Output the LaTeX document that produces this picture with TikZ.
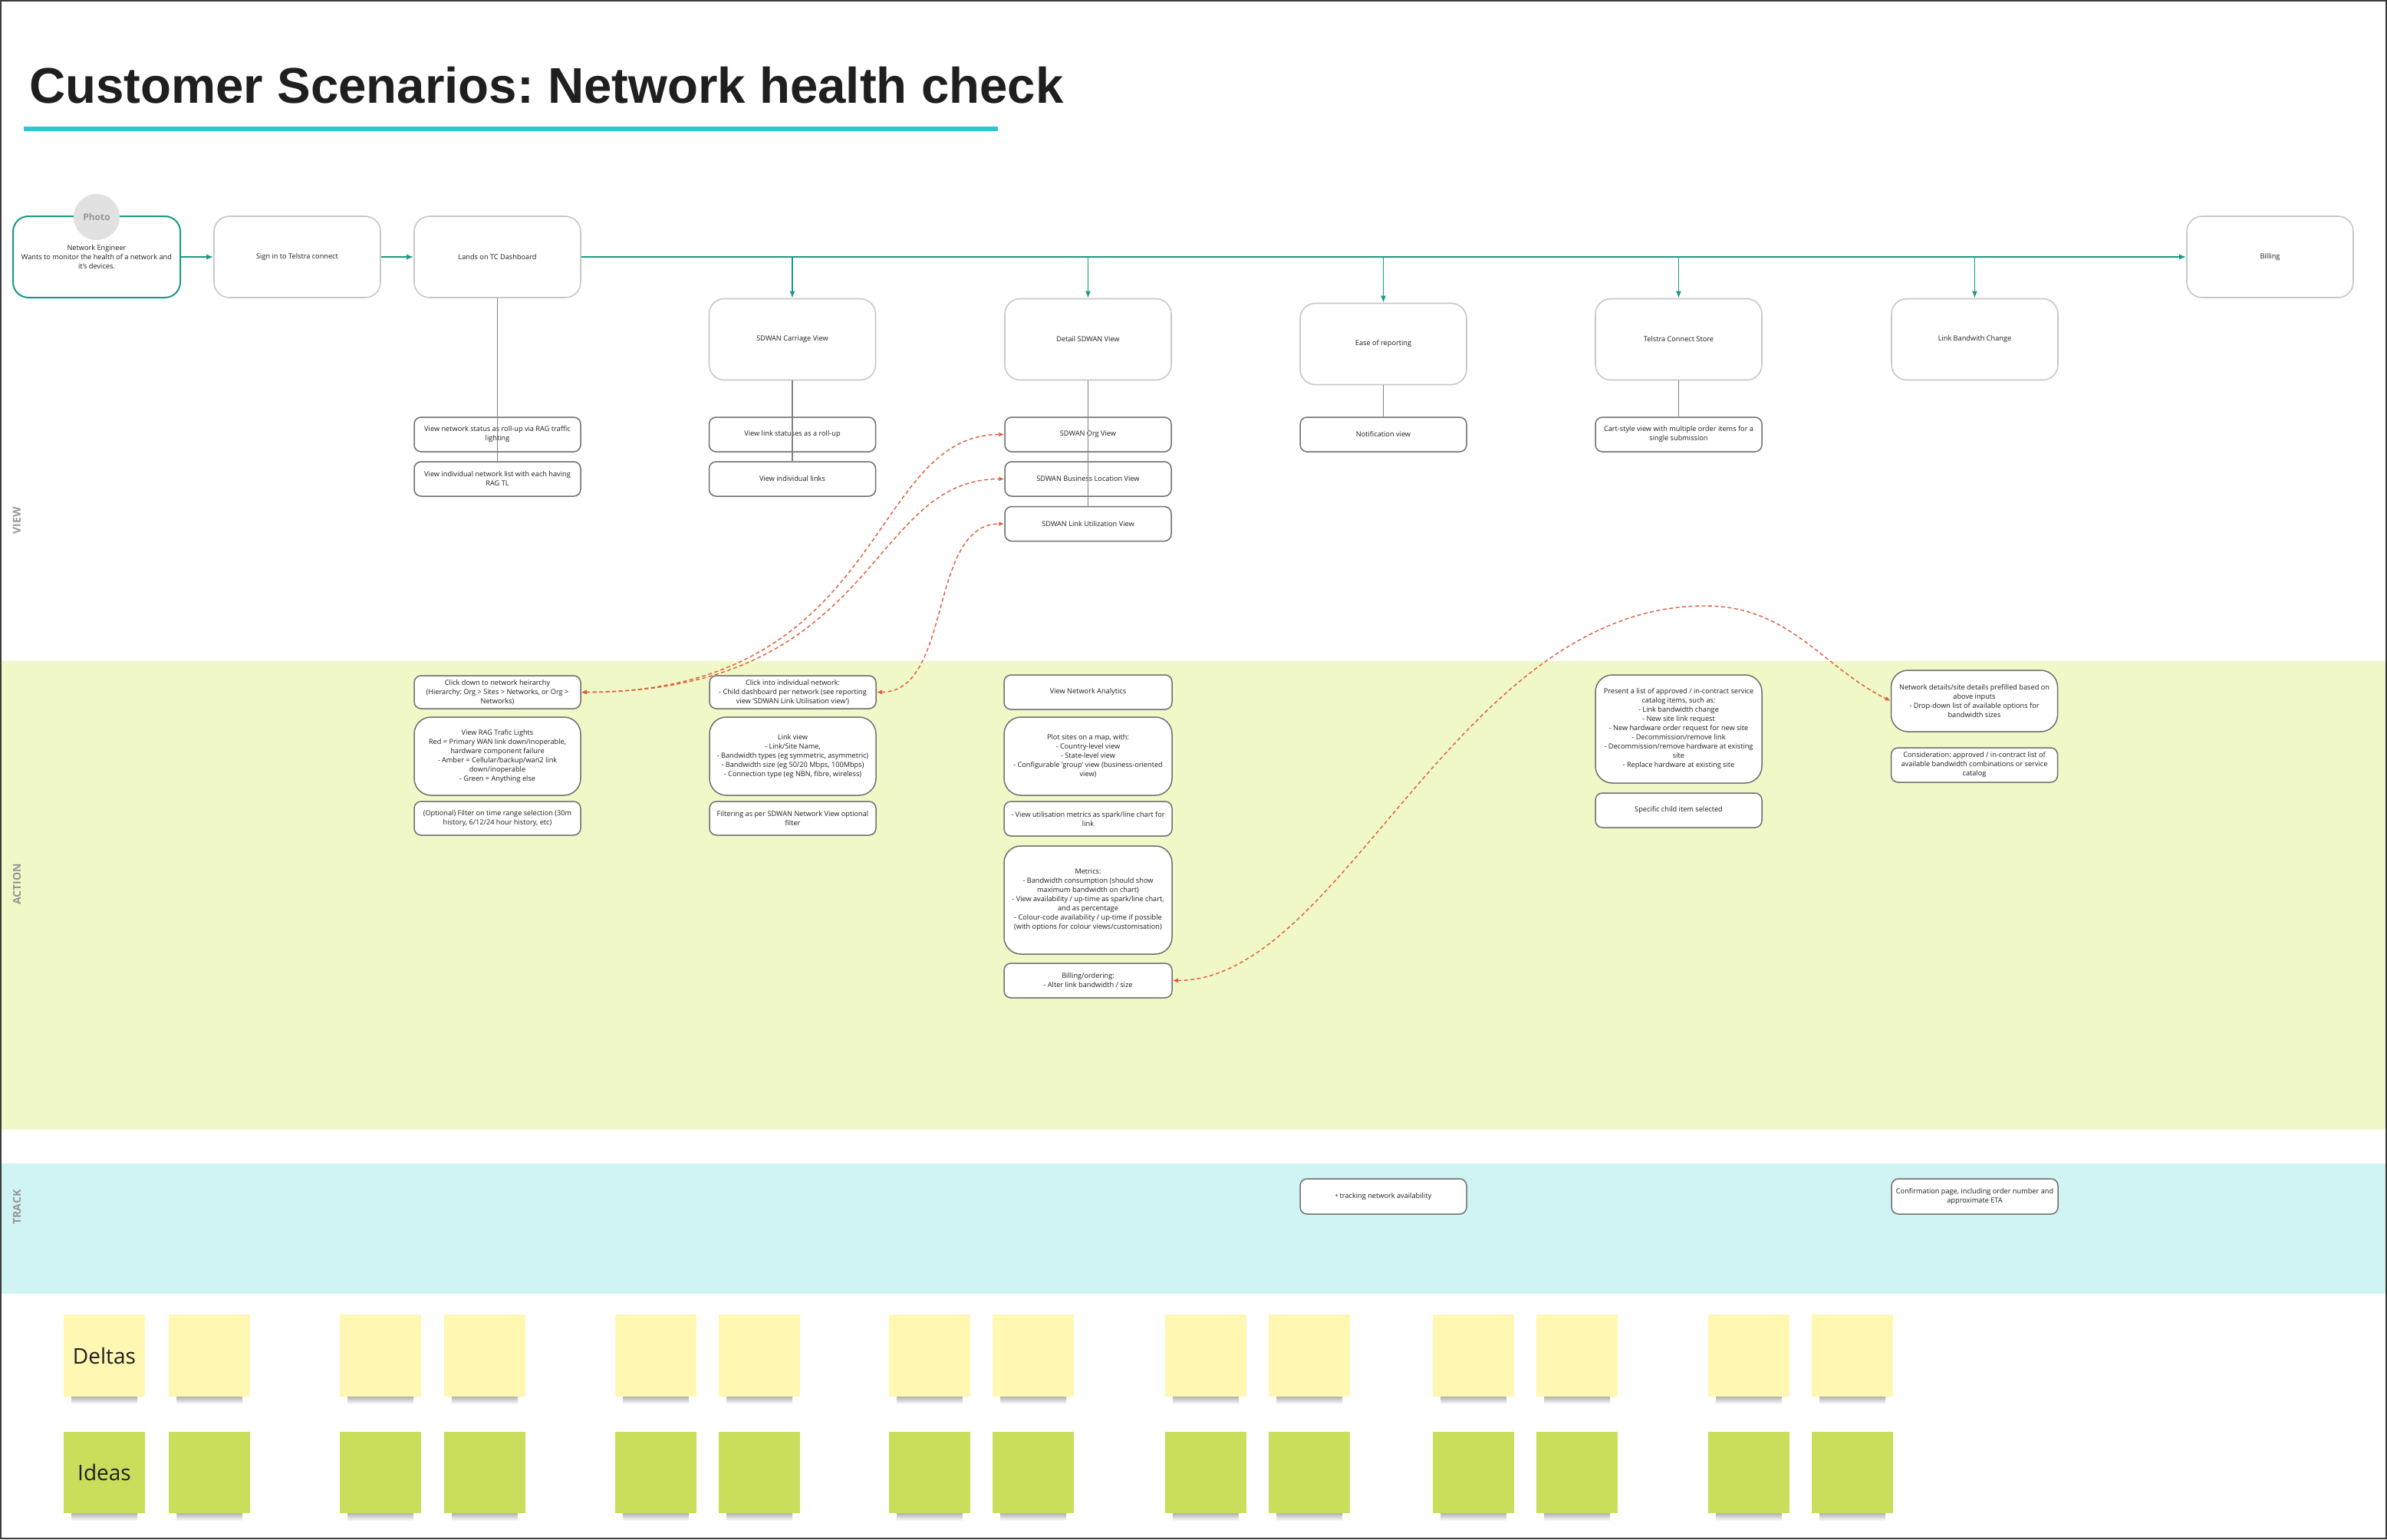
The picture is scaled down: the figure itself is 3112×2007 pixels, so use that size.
\documentclass[tikz,border=0pt]{standalone}
\usepackage{fontspec}
\setmainfont{Open Sans}
\newfontfamily\titlefont{Liberation Sans}
\usetikzlibrary{arrows.meta}
\frenchspacing
\definecolor{teal1}{RGB}{26,154,132}
\definecolor{lgray}{RGB}{200,200,200}
\definecolor{dgray}{RGB}{112,112,112}
\definecolor{stemgray}{RGB}{130,130,130}
\definecolor{txt}{RGB}{30,30,30}
\definecolor{red1}{RGB}{226,92,58}
\definecolor{actbg}{RGB}{240,248,200}
\definecolor{trkbg}{RGB}{208,243,244}
\definecolor{cyan1}{RGB}{47,198,208}
\definecolor{lanegray}{RGB}{150,150,150}
\definecolor{yel}{RGB}{255,247,178}
\definecolor{grn}{RGB}{202,222,92}
\definecolor{photogray}{RGB}{225,225,225}
\definecolor{phototxt}{RGB}{150,150,150}
\definecolor{frame}{RGB}{60,60,60}
\newcommand{\fs}{\fontsize{9.2}{12}\selectfont}
\tikzset{
  base/.style={align=center, text=txt, font=\fs, inner sep=2pt},
  topbox/.style={base, draw=lgray, line width=1.6pt, rounded corners=20pt, fill=white, minimum width=217pt, minimum height=106pt},
  subbox/.style={base, draw=dgray, line width=1.5pt, rounded corners=9pt, fill=white, minimum width=217pt, minimum height=45pt},
  tallbox/.style={subbox, rounded corners=22pt},
  flow/.style={draw=teal1, line width=1.6pt, -{Latex[length=9pt,width=7pt]}},
  stem/.style={draw=stemgray, line width=1.1pt},
  jump/.style={draw=red1, line width=1.4pt, dash pattern=on 5pt off 3.5pt, {Latex[length=7pt,width=6pt]}-{Latex[length=7pt,width=6pt]}},
  delta/.style={fill=yel, minimum width=106pt, minimum height=107pt, inner sep=0pt},
  idea/.style={fill=grn, minimum width=106pt, minimum height=106pt, inner sep=0pt},
  sticktext/.style={text=txt, font=\fontsize{28}{30}\selectfont, inner sep=0pt},
  lanelabel/.style={rotate=90, text=lanegray, font=\bfseries\fontsize{14}{14}\selectfont, inner sep=0pt},
}
\begin{document}
\begin{tikzpicture}[x=1pt,y=-1pt]
\useasboundingbox (0,0) rectangle (3112,2007);
\fill[white] (0,0) rectangle (3112,2007);
% lanes
\fill[actbg] (2,862) rectangle (3112,1473);
\fill[trkbg] (2,1517) rectangle (3112,1687);
\draw[frame, line width=2pt] (1,1) rectangle (3111,2006);
\node[lanelabel] (lview) at (22,679) {VIEW};
\node[lanelabel] (laction) at (22,1153) {ACTION};
\node[lanelabel] (ltrack) at (22,1574) {TRACK};
% title
\node[anchor=base west, inner sep=0pt, text=black!88, font=\titlefont\bfseries\fontsize{65.4}{70}\selectfont] (title) at (38,135) {Customer Scenarios: Network health check};
\draw[cyan1, line width=6pt] (31,168) -- (1301,168);
% top row
\node[topbox, draw=teal1, line width=2pt, minimum width=218pt] (persona) at (126,335) {Network Engineer\\Wants to monitor the health of a network and\\it's devices.};
\node[circle, fill=photogray, minimum size=60pt, inner sep=0pt, text=phototxt, font=\bfseries\fontsize{12}{12}\selectfont] (photo) at (126,283) {Photo};
\node[topbox] (signin) at (387.5,335) {Sign in to Telstra connect};
\node[topbox] (dash) at (648.5,335) {Lands on TC Dashboard};
\node[topbox] (billing) at (2959.5,335) {Billing};
\node[topbox] (carriage) at (1033,442.5) {SDWAN Carriage View};
\node[topbox] (detail) at (1418.5,442.5) {Detail SDWAN View};
\node[topbox] (ease) at (1803.5,448.5) {Ease of reporting};
\node[topbox] (store) at (2188.5,442.5) {Telstra Connect Store};
\node[topbox] (linkbw) at (2574.5,442.5) {Link Bandwith Change};
% view sub boxes
\node[subbox] (d1) at (648.5,566.5) {View network status as roll-up via RAG traffic\\lighting};
\node[subbox] (d2) at (648.5,624.5) {View individual network list with each having\\RAG TL};
\node[subbox] (c1) at (1033,566.5) {View link statuses as a roll-up};
\node[subbox] (c2) at (1033,624.5) {View individual links};
\node[subbox] (s1) at (1418.5,566.5) {SDWAN Org View};
\node[subbox] (s2) at (1418.5,624.5) {SDWAN Business Location View};
\node[subbox] (s3) at (1418.5,683) {SDWAN Link Utilization View};
\node[subbox] (n1) at (1803.5,566.5) {Notification view};
\node[subbox] (t1) at (2188.5,566.5) {Cart-style view with multiple order items for a\\single submission};
% action boxes
\node[subbox, minimum height=43pt] (a1) at (648.5,902.5) {Click down to network heirarchy\\(Hierarchy: Org > Sites > Networks, or Org >\\Networks)};
\node[tallbox, minimum height=102pt] (a2) at (648.5,986) {View RAG Trafic Lights\\Red = Primary WAN link down/inoperable,\\hardware component failure\\- Amber = Cellular/backup/wan2 link\\down/inoperable\\- Green = Anything else};
\node[subbox, minimum height=44pt] (a3) at (648.5,1067) {(Optional) Filter on time range selection (30m\\history, 6/12/24 hour history, etc)};
\node[subbox, minimum height=43pt] (b1) at (1033.5,902.5) {Click into individual network:\\- Child dashboard per network (see reporting\\view 'SDWAN Link Utilisation view')};
\node[tallbox, minimum height=102pt] (b2) at (1033.5,986) {Link view\\- Link/Site Name,\\- Bandwidth types (eg symmetric, asymmetric)\\- Bandwidth size (eg 50/20 Mbps, 100Mbps)\\- Connection type (eg NBN, fibre, wireless)};
\node[subbox, minimum height=44pt] (b3) at (1033.5,1067) {Filtering as per SDWAN Network View optional\\filter};
\node[subbox, minimum width=219pt] (e1) at (1418.5,902.5) {View Network Analytics};
\node[tallbox, minimum width=219pt, minimum height=102pt] (e2) at (1418.5,986) {Plot sites on a map, with:\\- Country-level view\\- State-level view\\- Configurable 'group' view (business-oriented\\view)};
\node[subbox, minimum width=219pt] (e3) at (1418.5,1067.5) {- View utilisation metrics as spark/line chart for\\link};
\node[tallbox, minimum width=219pt, minimum height=141pt] (e4) at (1418.5,1173.5) {Metrics:\\- Bandwidth consumption (should show\\maximum bandwidth on chart)\\- View availability / up-time as spark/line chart,\\and as percentage\\- Colour-code availability / up-time if possible\\(with options for colour views/customisation)};
\node[subbox, minimum width=219pt] (e5) at (1418.5,1278.5) {Billing/ordering:\\- Alter link bandwidth / size};
\node[tallbox, minimum height=141pt] (f1) at (2188.5,950.5) {Present a list of approved / in-contract service\\catalog items, such as:\\- Link bandwidth change\\- New site link request\\- New hardware order request for new site\\- Decommission/remove link\\- Decommission/remove hardware at existing\\site\\- Replace hardware at existing site};
\node[subbox] (f2) at (2188.5,1056.5) {Specific child item selected};
\node[tallbox, minimum height=80pt] (g1) at (2574,914) {Network details/site details prefilled based on\\above inputs\\- Drop-down list of available options for\\bandwidth sizes};
\node[subbox] (g2) at (2574,997.5) {Consideration: approved / in-contract list of\\available bandwidth combinations or service\\catalog};
% track boxes
\node[subbox, minimum height=46pt] (tr1) at (1803.5,1560) {• tracking network availability};
\node[subbox, minimum height=46pt] (tr2) at (2574.5,1560) {Confirmation page, including order number and\\approximate ETA};
% flow connectors
\draw[flow] (persona.east) -- (signin.west);
\draw[flow] (signin.east) -- (dash.west);
\draw[flow] (dash.east) -- (billing.west);
\draw[flow] (dash.east -| carriage.north) -- (carriage.north);
\draw[flow] (dash.east -| detail.north) -- (detail.north);
\draw[flow] (dash.east -| ease.north) -- (ease.north);
\draw[flow] (dash.east -| store.north) -- (store.north);
\draw[flow] (dash.east -| linkbw.north) -- (linkbw.north);
% stems
\draw[stem] (dash.south) -- (d2.north);
\draw[stem] (carriage.south) -- (c2.north);
\draw[stem] (detail.south) -- (s3.north);
\draw[stem] (ease.south) -- (n1.north);
\draw[stem] (store.south) -- (t1.north);
% red dashed jumps
\draw[jump] (a1.east) .. controls +(400,0) and +(-180,0) .. (s1.west);
\draw[jump] (a1.east) .. controls +(390,0) and +(-180,0) .. (s2.west);
\draw[jump] (b1.east) .. controls +(100,0) and +(-100,0) .. (s3.west);
\coordinate (peak) at (2223,790);
\draw[jump] (e5.east) .. controls +(222,0) and +(-323,0) .. (peak) .. controls +(110,0) and +(-90,-45) .. (g1.west);
% sticky notes
\foreach \L [count=\i] in {83,220,443,579,802,937,1159,1294,1519,1654,1868,2003,2227,2362} {
  \shade[top color=black!30, bottom color=white] (\L+10,1821) rectangle (\L+96,1831);
  \node[delta] (delta\i) at (\L+53,1767.5) {};
  \shade[top color=black!30, bottom color=white] (\L+10,1973) rectangle (\L+96,1983);
  \node[idea] (idea\i) at (\L+53,1920) {};
}
\node[sticktext] (deltastext) at (delta1) {Deltas};
\node[sticktext] (ideastext) at (idea1) {Ideas};
\end{tikzpicture}
\end{document}
